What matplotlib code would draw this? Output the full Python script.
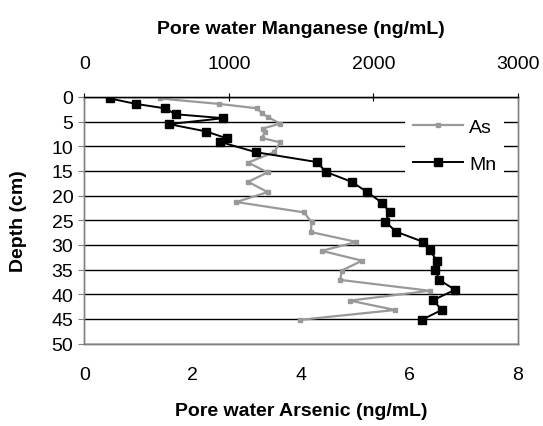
import matplotlib
matplotlib.use('Agg')
import matplotlib.pyplot as plt

plt.rcParams['font.family'] = ['Liberation Sans', 'DejaVu Sans']

# Arsenic profile (bottom axis)
as_depth = [0.3, 1.4, 2.3, 3.3, 4.1, 5.4, 6.4, 7.2, 8.3, 9.2, 11.2, 13.3, 15.3, 17.2,
            19.3, 21.3, 23.4, 25.4, 27.4, 29.4, 31.2, 33.2, 35.2, 37.1, 39.3, 41.3,
            43.2, 45.2]
as_conc = [1.39, 2.48, 3.19, 3.27, 3.39, 3.61, 3.29, 3.33, 3.27, 3.61, 3.50, 3.02,
           3.38, 3.02, 3.38, 2.80, 4.05, 4.19, 4.18, 5.02, 4.38, 5.12, 4.75, 4.72,
           6.37, 4.90, 5.73, 3.98]

# Manganese profile (top axis)
mn_depth = [0.3, 1.4, 2.3, 3.5, 4.3, 5.5, 7.0, 8.4, 9.1, 11.2, 13.2, 15.2, 17.2,
            19.3, 21.4, 23.4, 25.3, 27.3, 29.4, 31.0, 33.2, 35.1, 37.1, 39.1, 41.2,
            43.2, 45.2]
mn_conc = [176, 356, 557, 630, 962, 585, 844, 986, 938, 1187, 1609, 1671, 1849,
           1957, 2057, 2114, 2082, 2156, 2345, 2388, 2439, 2426, 2455, 2564, 2414,
           2472, 2334]

fig = plt.figure(figsize=(5.43, 4.27), dpi=100)
ax = fig.add_axes([0.1556, 0.1932, 0.7983, 0.5773])
ax2 = ax.twiny()

l1, = ax.plot(as_conc, as_depth, color='#999999', lw=1.6, marker='s', ms=3.5,
              label='As')
l2, = ax2.plot(mn_conc, mn_depth, color='black', lw=1.4, marker='s', ms=5.5,
               label='Mn')

ax.set_ylim(50, 0)
ax.set_xlim(0, 8)
ax2.set_xlim(0, 3000)
ax.set_yticks(range(0, 51, 5))
ax.set_xticks([0, 2, 4, 6, 8])
ax2.set_xticks([0, 1000, 2000, 3000])

ax.yaxis.grid(True, color='black', lw=1)
ax.set_axisbelow(True)

for a in (ax, ax2):
    for s in a.spines.values():
        s.set_color('#808080')
        s.set_linewidth(1)
ax2.spines['top'].set_color('black')

ax.tick_params(axis='y', labelsize=14, length=4, color='#808080', pad=4)
ax.tick_params(axis='x', labelsize=14, length=0, pad=16)
ax2.tick_params(axis='x', labelsize=14, length=6, direction='inout', color='black', pad=15)

ax.set_xlabel('Pore water Arsenic (ng/mL)', fontsize=14, fontweight='bold', labelpad=14)
ax2.set_xlabel('Pore water Manganese (ng/mL)', fontsize=14, fontweight='bold', labelpad=16)
ax.set_ylabel('Depth (cm)', fontsize=14, fontweight='bold', labelpad=18)

leg = ax2.legend([l1, l2], ['As', 'Mn'], loc='upper right', bbox_to_anchor=(0.99, 0.985),
                 frameon=True, fontsize=14, handlelength=2.6, labelspacing=1.0,
                 borderpad=0.4, handletextpad=0.3)
leg.get_frame().set_edgecolor('none')
leg.get_frame().set_facecolor('white')
leg.get_frame().set_alpha(1)

fig.savefig('out.png', dpi=100)
